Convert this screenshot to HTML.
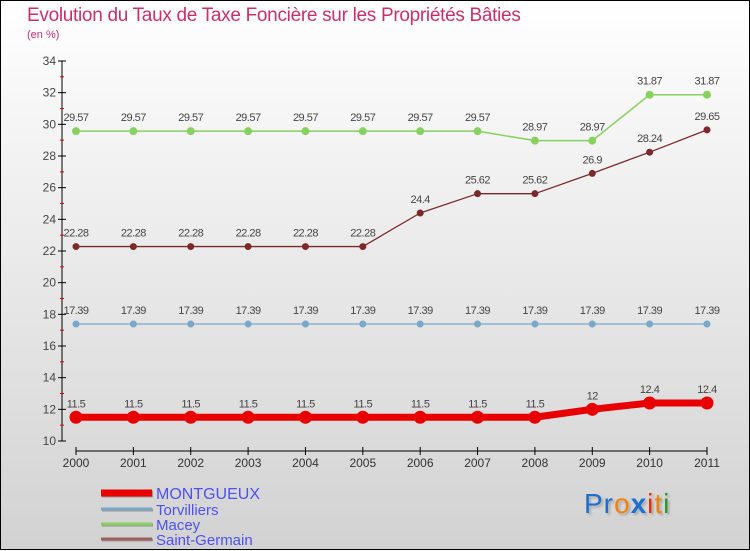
<!DOCTYPE html>
<html><head><meta charset="utf-8"><style>
html,body{margin:0;padding:0}
body{width:750px;height:550px;overflow:hidden;font-family:"Liberation Sans",sans-serif}
#wrap{position:relative;width:748px;height:548px;border:1px solid #000;background:linear-gradient(#ffffff,#d2d2d2)}
#title{position:absolute;left:26px;top:4px;font-size:19px;color:#c8306a;letter-spacing:-0.3px}
#sub{position:absolute;left:26px;top:28px;font-size:11px;color:#c8306a}
svg{position:absolute;left:0;top:0}
#logo{position:absolute;left:583px;top:487px;font-size:28px;font-family:"Liberation Sans",sans-serif;text-shadow:2px 2px 2px #aaa;letter-spacing:1px}
</style></head><body>
<div id="wrap">
<div id="title">Evolution du Taux de Taxe Foncière sur les Propriétés Bâties</div>
<div id="sub">(en %)</div>
<svg id="chart" width="750" height="550"></svg>
<div id="logo"><span style="color:#1a6fd0">Pr</span><span style="color:#f08010">o</span><span style="color:#1a6fd0;font-weight:bold">x</span><span style="color:#e03010">i</span><span style="color:#f08010">t</span><span style="color:#2a9a30">i</span></div>
</div>
<script>
const years=[2000,2001,2002,2003,2004,2005,2006,2007,2008,2009,2010,2011];
const montgueux=[11.5,11.5,11.5,11.5,11.5,11.5,11.5,11.5,11.5,12,12.4,12.4];
const torvilliers=[17.39,17.39,17.39,17.39,17.39,17.39,17.39,17.39,17.39,17.39,17.39,17.39];
const macey=[29.57,29.57,29.57,29.57,29.57,29.57,29.57,29.57,28.97,28.97,31.87,31.87];
const saintGermain=[22.28,22.28,22.28,22.28,22.28,22.28,24.4,25.62,25.62,26.9,28.24,29.65];
const yTicks=[10,12,14,16,18,20,22,24,26,28,30,32,34];
const seriesNames=["MONTGUEUX","Torvilliers","Macey","Saint-Germain"];

const svg=document.getElementById('chart');
const NS='http://www.w3.org/2000/svg';
const x=i=>75+i*(706-75)/(years.length-1);
const y=v=>440-(v-10)*(380/24);
function mk(t,a,p){const e=document.createElementNS(NS,t);for(const k in a)e.setAttribute(k,a[k]);(p||svg).appendChild(e);return e;}

// y axis
let ax=mk('line',{x1:61,y1:y(34),x2:61,y2:y(10),stroke:'#000','stroke-width':1});


yTicks.forEach(v=>{
  mk('line',{x1:57,x2:65,y1:y(v),y2:y(v),stroke:'#000'});
  const t=mk('text',{x:55,y:y(v)+4,'text-anchor':'end','font-size':12,fill:'#444','font-family':'Liberation Sans'});
  t.textContent=v;
  
  
  if(v<34) mk('line',{x1:59,x2:63,y1:y(v+1),y2:y(v+1),stroke:'#e00000'});
});
// x axis
let xa=mk('line',{x1:x(0),x2:x(years.length-1),y1:450,y2:450,stroke:'#000'});


years.forEach((yr,i)=>{
  mk('line',{x1:x(i),x2:x(i),y1:446,y2:454,stroke:'#000'});
  const t=mk('text',{x:x(i),y:466,'text-anchor':'middle','font-size':12,fill:'#333','font-family':'Liberation Sans'});
  t.textContent=yr;
  
  
});

function series(data,color,w,r,name){
  const g=mk('g',{});
  
  
  mk('polyline',{points:data.map((v,i)=>x(i)+','+y(v)).join(' '),fill:'none',stroke:color,'stroke-width':w,'stroke-linejoin':'round'},g);
  data.forEach((v,i)=>{
    const c=mk('circle',{cx:x(i),cy:y(v),r:r,fill:color},g);
    
    
    const t=mk('text',{x:x(i),y:y(v)-10,'text-anchor':'middle','font-size':11,fill:'#444','font-family':'Liberation Sans','letter-spacing':'-0.5'},g);
    t.textContent=v;
    
    
  });
}
series(macey,'#88d060',1.5,4,'macey-series');
series(saintGermain,'#7a2a2a',1.3,3.5,'saint-germain-series');
series(torvilliers,'#7aa8c8',1.3,3.5,'torvilliers-series');
series(montgueux,'#e80000',7,6.5,'montgueux-series');

// legend
const legColors=['#e80000','#7aa8c8','#88d060','#9a6060'];
const legW=[7,3,3,3];
seriesNames.forEach((n,i)=>{
  const ly=[492,508,523,538][i];
  const g=mk('g',{});
  
  
  mk('line',{x1:101,x2:152,y1:ly+1,y2:ly+1,stroke:'#999','stroke-width':legW[i]},g);
  mk('line',{x1:100,x2:151,y1:ly,y2:ly,stroke:legColors[i],'stroke-width':legW[i]},g);
  const t=mk('text',{x:155,y:ly+6,'font-size':i==0?16:15,fill:'#5050f0','font-family':'Liberation Sans'},g);
  t.textContent=n;
});
</script>
</body></html>
